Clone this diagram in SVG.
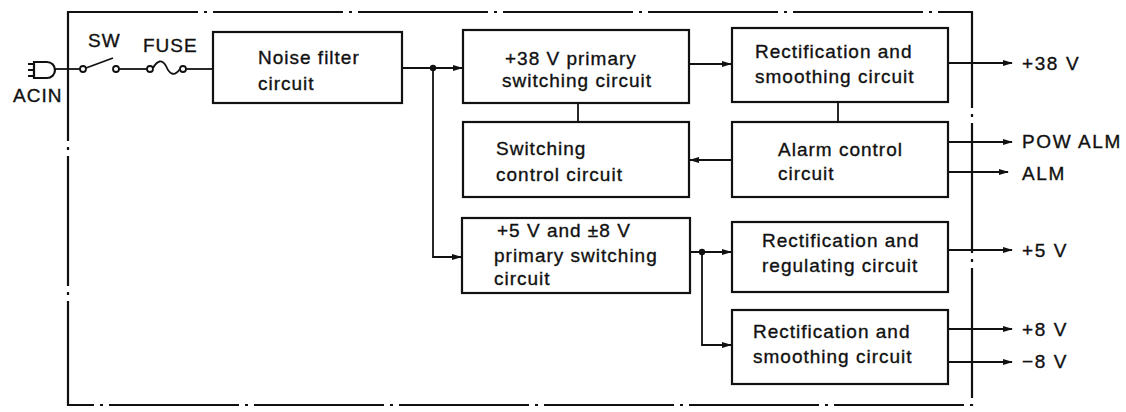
<svg xmlns="http://www.w3.org/2000/svg" width="1126" height="412" viewBox="0 0 1126 412">
<style>
.box{fill:#fff;stroke:#111;stroke-width:2.2}
.ln{fill:none;stroke:#111;stroke-width:1.8}
.frame{fill:none;stroke:#111;stroke-width:2.2;stroke-dasharray:130 6 3 6}
text{font-family:"Liberation Sans",Arial,sans-serif;font-size:19px;fill:#111;stroke:#111;stroke-width:0.35;letter-spacing:1px}
.out{letter-spacing:1.6px}
</style>
<defs>
<marker id="ah" markerWidth="10" markerHeight="8" refX="9" refY="4" orient="auto" markerUnits="userSpaceOnUse"><path d="M0,1 L10,4 L0,7 z" fill="#111"/></marker>
</defs>
<rect width="1126" height="412" fill="#fff"/>
<path class="frame" d="M68,12 H972 V405 H68 Z"/>

<g id="input">
<path d="M28,64 H34 M28,70 H34 M28,76 H34" class="ln"/>
<path d="M34,62 H47 A8,8 0 0 1 47,78 H34 Z" fill="#fff" stroke="#111" stroke-width="2.2"/>
<text x="13" y="102">ACIN</text>
</g>

<g id="switch">
<circle cx="83" cy="69" r="3" fill="#fff" stroke="#111" stroke-width="1.8"/>
<path class="ln" d="M86,68 L113,58"/>
<circle cx="116" cy="69" r="3" fill="#fff" stroke="#111" stroke-width="1.8"/>
<text x="88" y="47">SW</text>
</g>

<g id="fuse">
<circle cx="150" cy="69" r="3" fill="#fff" stroke="#111" stroke-width="1.8"/>
<path class="ln" d="M153,68 Q160,56 166,66 Q172,80 180,69"/>
<circle cx="183" cy="69" r="3" fill="#fff" stroke="#111" stroke-width="1.8"/>
<text x="143" y="52">FUSE</text>
</g>

<g id="noise">
<rect class="box" x="213" y="32" width="189" height="71"/>
<text x="258" y="64">Noise filter</text>
<text x="258" y="90">circuit</text>
</g>

<g id="prim38">
<rect class="box" x="463" y="30" width="226" height="73"/>
<text x="505" y="65">+38 V primary</text>
<text x="502" y="87">switching circuit</text>
</g>

<g id="rect38">
<rect class="box" x="732" y="28" width="216" height="74"/>
<text x="755" y="58">Rectification and</text>
<text x="755" y="83">smoothing circuit</text>
</g>

<g id="swctl">
<rect class="box" x="463" y="122" width="226" height="75"/>
<text x="496" y="155">Switching</text>
<text x="496" y="181">control circuit</text>
</g>

<g id="alarm">
<rect class="box" x="732" y="122" width="216" height="75"/>
<text x="778" y="156">Alarm control</text>
<text x="778" y="180">circuit</text>
</g>

<g id="prim5">
<rect class="box" x="462" y="218" width="228" height="75"/>
<text x="497" y="237">+5 V and ±8 V</text>
<text x="494" y="262">primary switching</text>
<text x="494" y="285">circuit</text>
</g>

<g id="rect5">
<rect class="box" x="732" y="222" width="216" height="70"/>
<text x="762" y="247">Rectification and</text>
<text x="762" y="272">regulating circuit</text>
</g>

<g id="rect8">
<rect class="box" x="732" y="310" width="216" height="74"/>
<text x="753" y="338">Rectification and</text>
<text x="753" y="363">smoothing circuit</text>
</g>

<g id="connectors">
<path class="ln" d="M55,69 H80"/>
<path class="ln" d="M119,69 H147"/>
<path class="ln" d="M186,69 H213"/>
<path class="ln" d="M402,68 H462" marker-end="url(#ah)"/>
<circle cx="433" cy="68" r="3.2" fill="#111"/>
<path class="ln" d="M433,68 V257 H461" marker-end="url(#ah)"/>
<path class="ln" d="M689,64 H731" marker-end="url(#ah)"/>
<path class="ln" d="M948,63 H1012" marker-end="url(#ah)"/>
<path class="ln" d="M578,103 V122"/>
<path class="ln" d="M838,102 V122"/>
<path class="ln" d="M732,160 H690" marker-end="url(#ah)"/>
<path class="ln" d="M948,142 H1012" marker-end="url(#ah)"/>
<path class="ln" d="M948,172 H1008" marker-end="url(#ah)"/>
<path class="ln" d="M690,252 H731" marker-end="url(#ah)"/>
<circle cx="702" cy="252" r="3.2" fill="#111"/>
<path class="ln" d="M702,252 V345 H731" marker-end="url(#ah)"/>
<path class="ln" d="M948,250 H1012" marker-end="url(#ah)"/>
<path class="ln" d="M948,329 H1012" marker-end="url(#ah)"/>
<path class="ln" d="M948,362 H1012" marker-end="url(#ah)"/>
</g>

<g id="outputs">
<text class="out" x="1022" y="70">+38 V</text>
<text class="out" x="1022" y="148">POW ALM</text>
<text class="out" x="1022" y="180">ALM</text>
<text class="out" x="1022" y="257">+5 V</text>
<text class="out" x="1022" y="336">+8 V</text>
<text class="out" x="1022" y="368">−8 V</text>
</g>
</svg>
